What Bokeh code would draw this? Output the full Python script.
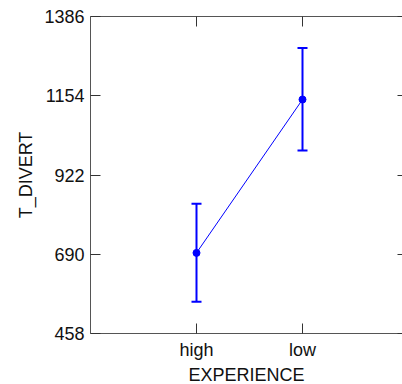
from bokeh.plotting import figure
from bokeh.models import (ColumnDataSource, Range1d, FixedTicker, LinearAxis,
                          Whisker, TeeHead)
from bokeh.embed import file_html
from bokeh.resources import INLINE

categories = ["high", "low"]
means = [694, 1143]
lower = [551, 994]
upper = [838, 1294]
y_ticks = [458, 690, 922, 1154, 1386]

xpos = [i + 1 for i in range(len(categories))]
src = ColumnDataSource(dict(x=xpos, y=means, lower=lower, upper=upper))

FONT = "Liberation Sans"
AX = "#555555"

p = figure(frame_width=312, frame_height=317, width=402, height=384,
           output_backend="svg", toolbar_location=None,
           x_range=Range1d(0, 312 / 106), y_range=Range1d(y_ticks[0], y_ticks[-1]),
           min_border_left=90, min_border_right=0, min_border_top=16,
           min_border_bottom=51)
p.outline_line_color = None
p.grid.visible = False
p.background_fill_color = "white"
p.border_fill_color = "white"

w = Whisker(base="x", upper="upper", lower="lower", source=src,
            line_color="#0000FF", line_width=2,
            upper_head=TeeHead(size=10, line_color="#0000FF", line_width=2),
            lower_head=TeeHead(size=10, line_color="#0000FF", line_width=2))
p.add_layout(w)
p.line("x", "y", source=src, line_color="#0000FF", line_width=1)
p.scatter("x", "y", source=src, size=7, color="#0000FF")

xt = FixedTicker(ticks=xpos)
yt = FixedTicker(ticks=y_ticks)
overrides = {x: c for x, c in zip(xpos, categories)}

def style(ax, labels=True):
    ax.axis_line_color = AX
    ax.axis_line_width = 1
    ax.major_tick_line_color = "#333333"
    ax.major_tick_line_width = 1
    ax.major_tick_in = 10
    ax.major_tick_out = 0
    ax.minor_tick_line_color = None
    ax.major_label_text_font = FONT
    ax.major_label_text_font_size = "18px"
    ax.major_label_text_color = "#111111"
    ax.axis_label_text_font = FONT
    ax.axis_label_text_font_size = "18px"
    ax.axis_label_text_font_style = "normal"
    ax.axis_label_text_color = "#111111"
    if not labels:
        ax.major_label_text_font_size = "0px"
        ax.major_label_standoff = 0
        ax.axis_label = None

xa = p.xaxis[0]
xa.ticker = xt
xa.major_label_overrides = overrides
xa.axis_label = "EXPERIENCE"
style(xa)
xa.major_label_standoff = 6
xa.axis_label_standoff = 2

ya = p.yaxis[0]
ya.ticker = yt
ya.axis_label = "T_DIVERT"
style(ya)
ya.major_label_standoff = 6
ya.axis_label_standoff = 5

top = LinearAxis(ticker=xt)
style(top, labels=False)
p.add_layout(top, "above")

right = LinearAxis(ticker=yt)
style(right, labels=False)
right.axis_line_color = None
right.major_tick_in = 5
p.add_layout(right, "right")

open("out.html", "w").write(file_html(p, INLINE))
